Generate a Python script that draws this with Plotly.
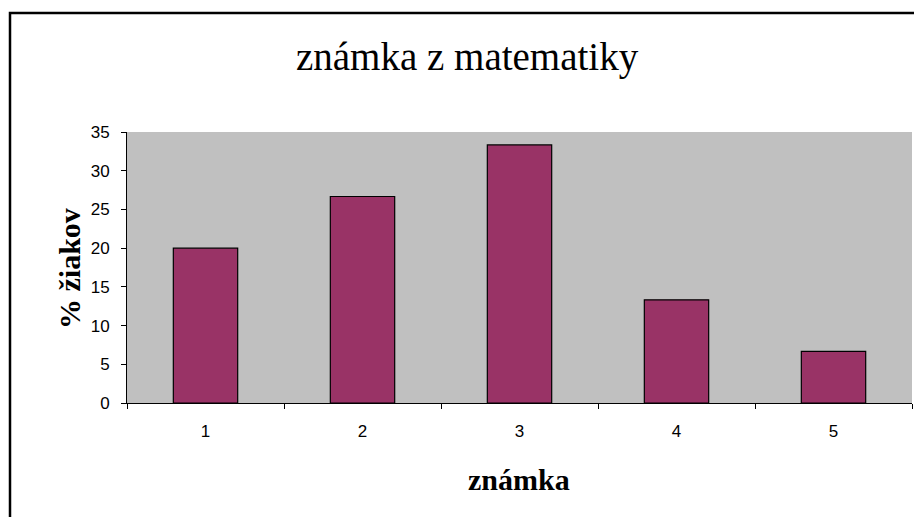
import plotly.graph_objects as go

categories = ["1", "2", "3", "4", "5"]
values = [20.0, 26.67, 33.33, 13.33, 6.67]
y_ticks = [0, 5, 10, 15, 20, 25, 30, 35]

W, H = 914, 517
L, R, T, B = 127, 2, 132, 114
pw, ph = W - L - R, H - T - B

def px(x):
    return (x - L) / pw

def py(y):
    return 1 - (y - T) / ph

fig = go.Figure()
fig.add_trace(go.Bar(
    x=categories, y=values,
    marker=dict(color="#993366", line=dict(color="black", width=1.2)),
    width=0.41,
    hoverinfo="skip",
))

serif = "Liberation Serif, Palatino Linotype, serif"
sans = "Liberation Sans, Arial, sans-serif"

fig.update_layout(
    width=W, height=H,
    margin=dict(l=L, r=R, t=T, b=B),
    paper_bgcolor="white",
    plot_bgcolor="#C0C0C0",
    showlegend=False,
    xaxis=dict(
        type="category",
        showline=True, linecolor="black", linewidth=1,
        ticks="outside", ticklen=5, tickcolor="black", tickwidth=1,
        tickson="boundaries",
        showgrid=False, zeroline=False,
        tickfont=dict(family=sans, size=17, color="black"),
        ticklabelstandoff=13,
    ),
    yaxis=dict(
        range=[0, 35],
        tickvals=y_ticks,
        showline=True, linecolor="black", linewidth=1,
        ticks="outside", ticklen=5, tickcolor="black", tickwidth=1,
        showgrid=False, zeroline=False,
        tickfont=dict(family=sans, size=17, color="black"),
        ticklabelstandoff=8,
    ),
    shapes=[dict(
        type="rect", xref="paper", yref="paper",
        x0=px(10), x1=px(940), y0=py(540), y1=py(13),
        line=dict(color="black", width=2.5), fillcolor="rgba(0,0,0,0)", layer="above",
    )],
    annotations=[
        dict(text="známka z matematiky", xref="paper", yref="paper",
             x=px(467), y=py(57), showarrow=False, xanchor="center", yanchor="middle",
             font=dict(family=serif, size=39, color="black")),
        dict(text="<b>známka</b>", xref="paper", yref="paper",
             x=px(519), y=py(479), showarrow=False, xanchor="center", yanchor="middle",
             font=dict(family=serif, size=30, color="black")),
        dict(text="<b>% žiakov</b>", xref="paper", yref="paper",
             x=px(69), y=py(269), showarrow=False, xanchor="center", yanchor="middle",
             textangle=-90,
             font=dict(family=serif, size=30, color="black")),
    ],
)

fig.write_html("out.html", config={"displayModeBar": False},
               post_script="document.body.style.margin='0';document.body.style.overflow='hidden';")
